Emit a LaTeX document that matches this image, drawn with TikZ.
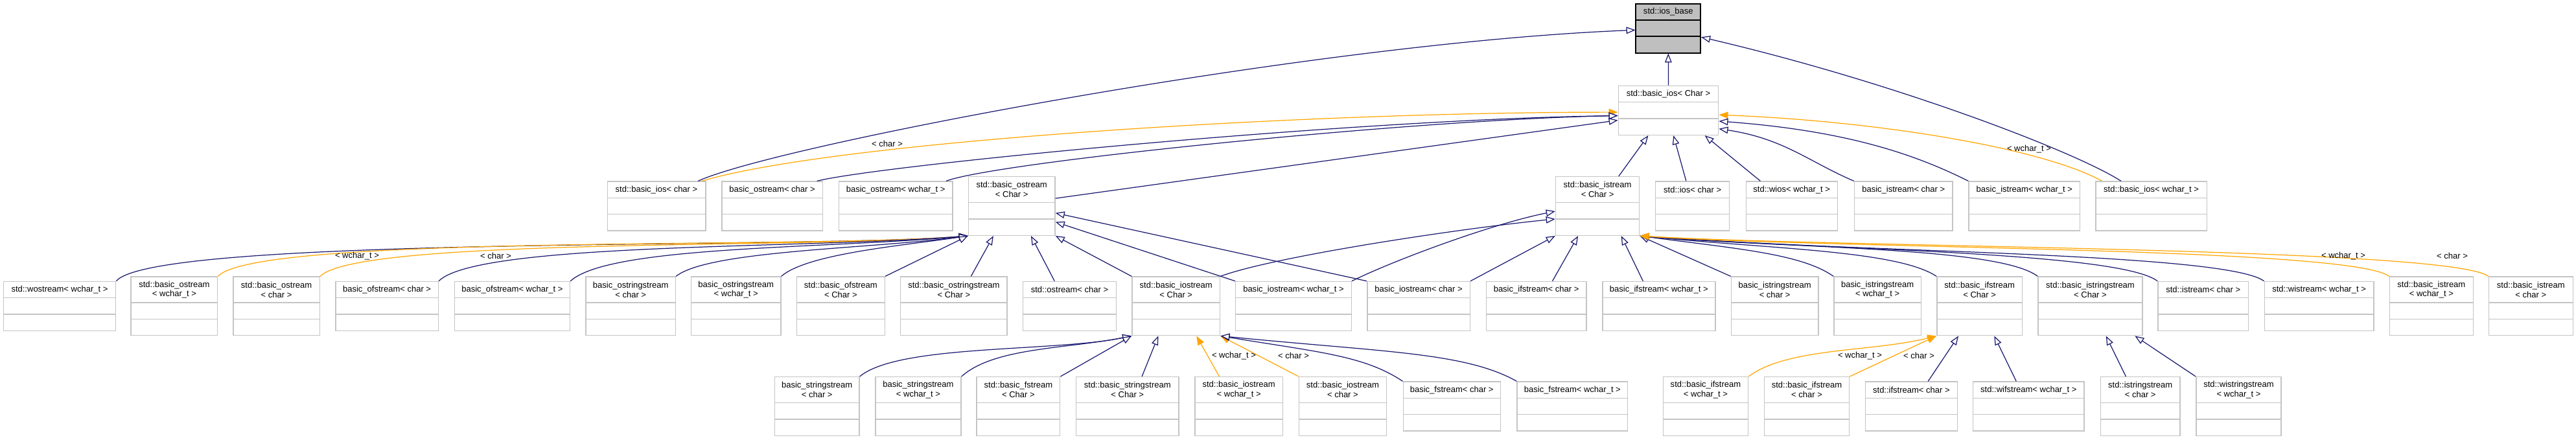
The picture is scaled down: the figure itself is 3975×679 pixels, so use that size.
\documentclass[tikz,border=0pt]{standalone}
\usepackage{fontspec}
\setmainfont{Liberation Sans}
\usetikzlibrary{arrows.meta, calc, fit}
\definecolor{navy}{HTML}{191970}
\definecolor{amber}{HTML}{FFA500}
\definecolor{boxgray}{HTML}{C4C4C4}
\definecolor{rootgray}{HTML}{BFBFBF}

\tikzset{
  clsbox/.style={draw=boxgray, fill=white, line width=0.4pt},
  clsroot/.style={draw=black, fill=rootgray, line width=0.55pt},
  clstitle/.style={font=\fontsize{3.7}{4.2}\selectfont, align=center, inner sep=0pt},
  lbl/.style={font=\fontsize{3.7}{4.2}\selectfont, inner sep=0pt},
  inh/.style={draw=navy, line width=0.35pt, -{Triangle[length=4pt, width=3pt, fill=white]}},
  tpl/.style={draw=amber, line width=0.35pt, -{Triangle[length=4pt, width=3pt]}},
}

% class box: [style]{name}{left}{right}{centre y}{title lines}{title}
\newcommand{\umlclass}[7][clsbox]{%
  \pgfmathsetmacro\clsH{#6==1 ? 25.3 : 40}%
  \pgfmathsetmacro\clsTop{-#5+(\clsH+50.6)/2}%
  \pgfmathsetmacro\clsA{\clsTop-\clsH}%
  \pgfmathsetmacro\clsB{\clsA-25.3}%
  \pgfmathsetmacro\clsBot{\clsB-25.3}%
  \path[#1] (#3,\clsTop) rectangle (#4,\clsBot);
  \draw[#1, fill=none] (#3,\clsA) -- (#4,\clsA) (#3,\clsB) -- (#4,\clsB);
  \node[clstitle] (#2-t) at ({(#3+#4)/2},{(\clsTop+\clsA)/2}) {#7};
  \node[fit={(#3,\clsTop) (#4,\clsBot)}, inner sep=0pt] (#2) {};
}

\begin{document}
\begin{tikzpicture}[x=0.01cm, y=0.01cm]
  \useasboundingbox (0,0) rectangle (3975,-679);
  % rows 0 and 1
  \umlclass[clsroot]{ios}{2524.3}{2624.3}{43.7}{1}{std::ios\_base}
  \umlclass{biosC}{2497.3}{2651.7}{170.4}{1}{std::basic\_ios< Char >}
  % row 2
  \umlclass{bioschar}{937.2}{1088.8}{318}{1}{std::basic\_ios< char >}
  \umlclass{ostrchar}{1113.8}{1269.4}{318}{1}{basic\_ostream< char >}
  \umlclass{ostrwchar}{1294.4}{1469.9}{318}{1}{basic\_ostream< wchar\_t >}
  \umlclass{bostrC}{1494.4}{1628}{318}{2}{std::basic\_ostream\\< Char >}
  \umlclass{bistrC}{2400.5}{2529.7}{318}{2}{std::basic\_istream\\< Char >}
  \umlclass{ioschar}{2554.6}{2668.7}{318}{1}{std::ios< char >}
  \umlclass{wios}{2694.3}{2835.2}{318}{1}{std::wios< wchar\_t >}
  \umlclass{istrchar}{2861.4}{3013.1}{318}{1}{basic\_istream< char >}
  \umlclass{istrwchar}{3038}{3209.6}{318}{1}{basic\_istream< wchar\_t >}
  \umlclass{bioswchar}{3233.8}{3405.4}{318}{1}{std::basic\_ios< wchar\_t >}
  % row 3
  \umlclass{wostr}{5.4}{178.6}{472.4}{1}{std::wostream< wchar\_t >}
  \umlclass{bostrw}{202.2}{335.7}{472.4}{2}{std::basic\_ostream\\< wchar\_t >}
  \umlclass{bostrc}{359.8}{493.3}{472.4}{2}{std::basic\_ostream\\< char >}
  \umlclass{ofchar}{517.9}{676.3}{472.4}{1}{basic\_ofstream< char >}
  \umlclass{ofwchar}{701.3}{879.5}{472.4}{1}{basic\_ofstream< wchar\_t >}
  \umlclass{osschar}{904}{1042.4}{472.4}{2}{basic\_ostringstream\\< char >}
  \umlclass{osswchar}{1066.5}{1204.9}{472.4}{2}{basic\_ostringstream\\< wchar\_t >}
  \umlclass{bofC}{1229.5}{1365.2}{472.4}{2}{std::basic\_ofstream\\< Char >}
  \umlclass{bossC}{1389.7}{1554}{472.4}{2}{std::basic\_ostringstream\\< Char >}
  \umlclass{ostrmchar}{1578.6}{1722.3}{472.4}{1}{std::ostream< char >}
  \umlclass{biostrC}{1746.9}{1882.6}{472.4}{2}{std::basic\_iostream\\< Char >}
  \umlclass{iostrwchar}{1906.7}{2085.3}{472.4}{1}{basic\_iostream< wchar\_t >}
  \umlclass{iostrchar}{2109.8}{2268.3}{472.4}{1}{basic\_iostream< char >}
  \umlclass{ifchar}{2293.3}{2447.8}{472.4}{1}{basic\_ifstream< char >}
  \umlclass{ifwchar}{2472.8}{2646.9}{472.4}{1}{basic\_ifstream< wchar\_t >}
  \umlclass{isschar}{2671.4}{2805.8}{472.4}{2}{basic\_istringstream\\< char >}
  \umlclass{isswchar}{2829.9}{2964.3}{472.4}{2}{basic\_istringstream\\< wchar\_t >}
  \umlclass{bifC}{2988.8}{3120.5}{472.4}{2}{std::basic\_ifstream\\< Char >}
  \umlclass{bissC}{3145.1}{3305.8}{472.4}{2}{std::basic\_istringstream\\< Char >}
  \umlclass{istrmchar}{3329.9}{3469.6}{472.4}{1}{std::istream< char >}
  \umlclass{wistrm}{3494.2}{3662.9}{472.4}{1}{std::wistream< wchar\_t >}
  \umlclass{bistrw}{3687.5}{3816.2}{472.4}{2}{std::basic\_istream\\< wchar\_t >}
  \umlclass{bistrc}{3840.4}{3970.2}{472.4}{2}{std::basic\_istream\\< char >}
  % row 4
  \umlclass{sschar}{1195.5}{1325.9}{627}{2}{basic\_stringstream\\< char >}
  \umlclass{sswchar}{1350.9}{1483}{627}{2}{basic\_stringstream\\< wchar\_t >}
  \umlclass{bfsC}{1507.1}{1635.7}{627}{2}{std::basic\_fstream\\< Char >}
  \umlclass{bssC}{1660.7}{1818.8}{627}{2}{std::basic\_stringstream\\< Char >}
  \umlclass{biosw}{1843.8}{1979.5}{627}{2}{std::basic\_iostream\\< wchar\_t >}
  \umlclass{biosc}{2004.5}{2139.3}{627}{2}{std::basic\_iostream\\< char >}
  \umlclass{fschar}{2165.2}{2315.2}{627}{1}{basic\_fstream< char >}
  \umlclass{fswchar}{2341.1}{2511.6}{627}{1}{basic\_fstream< wchar\_t >}
  \umlclass{bifw}{2566.3}{2697.6}{627}{2}{std::basic\_ifstream\\< wchar\_t >}
  \umlclass{bifc}{2722.4}{2853.6}{627}{2}{std::basic\_ifstream\\< char >}
  \umlclass{ifstrchar}{2878.4}{3020.4}{627}{1}{std::ifstream< char >}
  \umlclass{wifstr}{3044.5}{3216}{627}{1}{std::wifstream< wchar\_t >}
  \umlclass{isstrchar}{3241.4}{3364}{627}{2}{std::istringstream\\< char >}
  \umlclass{wisstr}{3388.8}{3520.1}{627}{2}{std::wistringstream\\< wchar\_t >}

  % into std::ios_base
  \draw[inh] (biosC.north) -- (ios.south);
  \draw[inh] ($(bioschar.north west)!0.92!(bioschar.north east)$) .. controls +(120,55) and +(-500,-20) .. (ios.183);
  \draw[inh] ($(bioswchar.north west)!0.23!(bioswchar.north east)$) .. controls +(-70,45) and +(300,-70) .. (ios.345);
  % into std::basic_ios< Char >
  \draw[tpl] ($(bioschar.north west)!0.96!(bioschar.north east)$) .. controls +(200,60) and +(-500,0) .. (biosC.182);
  \draw[inh] ($(ostrchar.north west)!0.94!(ostrchar.north east)$) .. controls +(100,25) and +(-400,-5) .. (biosC.186);
  \draw[inh] ($(ostrwchar.north west)!0.94!(ostrwchar.north east)$) .. controls +(80,30) and +(-300,-5) .. (biosC.186);
  \draw[inh] (bostrC.10) -- (biosC.191);
  \draw[inh] ($(bistrC.north west)!0.75!(bistrC.north east)$) -- ($(biosC.south west)!0.30!(biosC.south east)$);
  \draw[inh] ($(ioschar.north west)!0.415!(ioschar.north east)$) -- ($(biosC.south west)!0.55!(biosC.south east)$);
  \draw[inh] ($(wios.north west)!0.16!(wios.north east)$) -- ($(biosC.south west)!0.86!(biosC.south east)$);
  \draw[inh] (istrchar.north west) .. controls +(-70,30) and +(100,-15) .. (biosC.340);
  \draw[inh] (istrwchar.north west) .. controls +(-80,40) and +(200,-15) .. (biosC.348);
  \draw[tpl] ($(bioswchar.north west)!0.06!(bioswchar.north east)$) .. controls +(-90,50) and +(250,-10) .. (biosC.355);
  \node[lbl] (l-bioschar) at (1369,-222) {< char >};
  \node[lbl] (l-bioswchar) at (3131,-230) {< wchar\_t >};

  % into std::basic_ostream< Char >
  \draw[inh] (wostr.north east) .. controls +(60,70) and +(-250,-20) .. (bostrC.south west);
  \draw[tpl] (bostrw.north east) .. controls +(60,65) and +(-250,-20) .. (bostrC.south west);
  \draw[tpl] (bostrc.north east) .. controls +(60,60) and +(-250,-20) .. (bostrC.south west);
  \draw[inh] (ofchar.north east) .. controls +(60,60) and +(-250,-20) .. (bostrC.south west);
  \draw[inh] (ofwchar.north east) .. controls +(60,55) and +(-220,-20) .. (bostrC.south west);
  \draw[inh] (osschar.north east) .. controls +(50,40) and +(-150,-20) .. (bostrC.south west);
  \draw[inh] (osswchar.north east) .. controls +(40,35) and +(-100,-15) .. (bostrC.south west);
  \draw[inh] (bofC.north east) -- (bostrC.south west);
  \draw[inh] ($(bossC.north west)!0.66!(bossC.north east)$) -- ($(bostrC.south west)!0.29!(bostrC.south east)$);
  \draw[inh] ($(ostrmchar.north west)!0.34!(ostrmchar.north east)$) -- ($(bostrC.south west)!0.72!(bostrC.south east)$);
  \draw[inh] (biostrC.north west) -- (bostrC.south east);
  \draw[inh] (iostrwchar.north west) -- (bostrC.340);
  \draw[inh] (iostrchar.north west) -- (bostrC.351);
  \node[lbl] (l-bostrw) at (551,-395) {< wchar\_t >};
  \node[lbl] (l-bostrc) at (765,-395) {< char >};

  % into std::basic_istream< Char >
  \draw[inh] (biostrC.north east) .. controls +(80,30) and +(-150,-15) .. (bistrC.197);
  \draw[inh] (iostrwchar.north east) .. controls +(60,30) and +(-100,-20) .. (bistrC.187);
  \draw[inh] (iostrchar.north east) -- (bistrC.south west);
  \draw[inh] ($(ifchar.north west)!0.66!(ifchar.north east)$) -- ($(bistrC.south west)!0.27!(bistrC.south east)$);
  \draw[inh] ($(ifwchar.north west)!0.36!(ifwchar.north east)$) -- ($(bistrC.south west)!0.78!(bistrC.south east)$);
  \draw[inh] (isschar.north west) -- (bistrC.south east);
  \draw[inh] (isswchar.north west) .. controls +(-50,35) and +(150,-20) .. (bistrC.south east);
  \draw[inh] (bifC.north west) .. controls +(-60,40) and +(200,-20) .. (bistrC.south east);
  \draw[inh] (bissC.north west) .. controls +(-60,45) and +(250,-20) .. (bistrC.south east);
  \draw[inh] (istrmchar.north west) .. controls +(-60,45) and +(300,-22) .. (bistrC.south east);
  \draw[inh] (wistrm.north west) .. controls +(-60,45) and +(300,-25) .. (bistrC.south east);
  \draw[tpl] (bistrw.north west) .. controls +(-60,45) and +(300,-20) .. (bistrC.south east);
  \draw[tpl] (bistrc.north west) .. controls +(-60,45) and +(300,-18) .. (bistrC.south east);
  \node[lbl] (l-bistrw) at (3616,-395) {< wchar\_t >};
  \node[lbl] (l-bistrc) at (3784,-395) {< char >};

  % into std::basic_iostream< Char >
  \draw[inh] (sschar.north east) .. controls +(60,50) and +(-120,-25) .. (biostrC.south west);
  \draw[inh] (sswchar.north east) .. controls +(50,45) and +(-100,-20) .. (biostrC.south west);
  \draw[inh] (bfsC.north east) -- (biostrC.south west);
  \draw[inh] ($(bssC.north west)!0.64!(bssC.north east)$) -- ($(biostrC.south west)!0.30!(biostrC.south east)$);
  \draw[tpl] ($(biosw.north west)!0.28!(biosw.north east)$) -- ($(biostrC.south west)!0.73!(biostrC.south east)$);
  \draw[tpl] (biosc.north west) -- (biostrC.south east);
  \draw[inh] (fschar.north west) .. controls +(-60,40) and +(150,-25) .. (biostrC.south east);
  \draw[inh] (fswchar.north west) .. controls +(-80,45) and +(250,-25) .. (biostrC.south east);
  \node[lbl] (l-biosw) at (1904,-549) {< wchar\_t >};
  \node[lbl] (l-biosc) at (1996,-549) {< char >};

  % into std::basic_ifstream< Char > and std::basic_istringstream< Char >
  \draw[tpl] (bifw.north east) .. controls +(60,45) and +(-100,-25) .. (bifC.south west);
  \draw[tpl] (bifc.north east) -- (bifC.south west);
  \draw[inh] ($(ifstrchar.north west)!0.68!(ifstrchar.north east)$) -- ($(bifC.south west)!0.255!(bifC.south east)$);
  \draw[inh] ($(wifstr.north west)!0.39!(wifstr.north east)$) -- ($(bifC.south west)!0.67!(bifC.south east)$);
  \draw[inh] ($(isstrchar.north west)!0.32!(isstrchar.north east)$) -- ($(bissC.south west)!0.65!(bissC.south east)$);
  \draw[inh] (wisstr.north west) -- ($(bissC.south west)!0.925!(bissC.south east)$);
  \node[lbl] (l-bifw) at (2870,-549) {< wchar\_t >};
  \node[lbl] (l-bifc) at (2961,-549) {< char >};
\end{tikzpicture}
\end{document}
